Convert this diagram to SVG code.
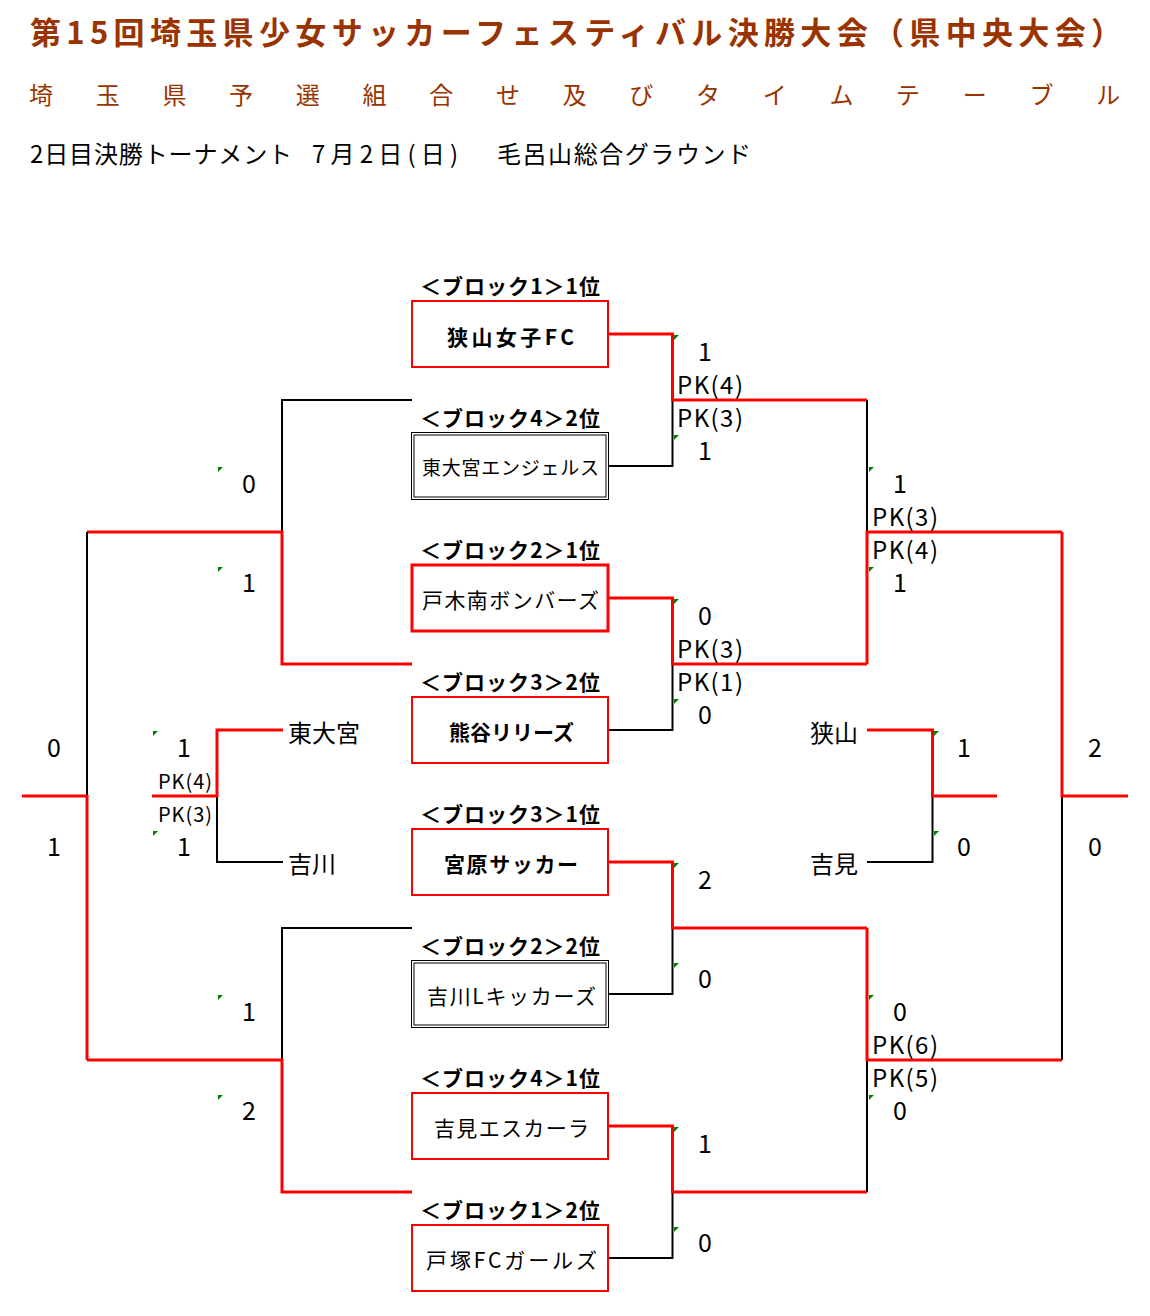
<svg xmlns="http://www.w3.org/2000/svg" width="1150" height="1316" viewBox="0 0 1150 1316">
<style>
text{font-family:"Noto Sans CJK JP","Liberation Sans",sans-serif;fill:#000}
.title{font-size:31px;font-weight:700;fill:#993300}
.sub{font-size:24px;fill:#993300}
.head{font-size:24px}
.lab{font-size:21px;font-weight:700}
.nm{font-size:21px}
.b{font-weight:700}
.sc{font-size:25px;text-anchor:middle}
.pk{font-size:24px}
.pks{font-size:20px}
.tm{font-size:24px}
.w{fill:none;stroke:#ff0000;stroke-width:3}
.l{fill:none;stroke:#000;stroke-width:2}
.rb{fill:#fff;stroke:#ff0000;stroke-width:2}
.db{fill:#fff;stroke:#000;stroke-width:1}
.g{fill:#008000}
</style>
<rect width="1150" height="1316" fill="#fff"/>
<g id="header">
<text class="title" x="30" y="44" textLength="1092" lengthAdjust="spacing">第15回埼玉県少女サッカーフェスティバル決勝大会（県中央大会）</text>
<text class="sub" y="104" x="29 95.7 162.4 229.1 295.8 362.5 429.2 495.9 562.6 629.3 696 762.7 829.4 896.1 962.8 1029.5 1096.2">埼玉県予選組合せ及びタイムテーブル</text>
<text class="head" x="30" y="163" textLength="262" lengthAdjust="spacing">2日目決勝トーナメント</text>
<text class="head" x="312" y="163" textLength="146" lengthAdjust="spacing">7月2日(日)</text>
<text class="head" x="497" y="163" textLength="254" lengthAdjust="spacing">毛呂山総合グラウンド</text>
</g>
<g id="connectors">
<path class="l" d="M608,466 H672.5 V400"/>
<path class="w" d="M608,334 H672.5 V400 H867"/>
<path class="l" d="M608,730 H672.5 V664"/>
<path class="w" d="M608,598 H672.5 V664 H867"/>
<path class="l" d="M608,994 H672.5 V928"/>
<path class="w" d="M608,862 H672.5 V928 H867"/>
<path class="l" d="M608,1258 H672.5 V1192"/>
<path class="w" d="M608,1126 H672.5 V1192 H867"/>
<path class="l" d="M867,400 V532"/>
<path class="w" d="M867,664 V532 H1062"/>
<path class="l" d="M867,1192 V1060"/>
<path class="w" d="M867,928 V1060 H1062"/>
<path class="l" d="M1062,1060 V796"/>
<path class="w" d="M1062,532 V796 H1128"/>
<path class="l" d="M867,862 H932.5 V796"/>
<path class="w" d="M867,730 H932.5 V796 H997"/>
<path class="l" d="M412,400 H282 V532"/>
<path class="w" d="M412,664 H282 V532 H87"/>
<path class="l" d="M412,928 H282 V1060"/>
<path class="w" d="M412,1192 H282 V1060 H87"/>
<path class="l" d="M87,532 V796"/>
<path class="w" d="M87,1060 V796 H22"/>
<path class="l" d="M283,862 H217 V796"/>
<path class="w" d="M283,730 H217 V796 H152"/>
</g>
<g id="marks">
<polygon class="g" points="674,335 679,335 674,340"/>
<polygon class="g" points="674,435 679,435 674,440"/>
<polygon class="g" points="674,599 679,599 674,604"/>
<polygon class="g" points="674,699 679,699 674,704"/>
<polygon class="g" points="674,863 679,863 674,868"/>
<polygon class="g" points="674,963 679,963 674,968"/>
<polygon class="g" points="674,1127 679,1127 674,1132"/>
<polygon class="g" points="674,1227 679,1227 674,1232"/>
<polygon class="g" points="869,467 874,467 869,472"/>
<polygon class="g" points="869,567 874,567 869,572"/>
<polygon class="g" points="869,995 874,995 869,1000"/>
<polygon class="g" points="869,1095 874,1095 869,1100"/>
<polygon class="g" points="934,731 939,731 934,736"/>
<polygon class="g" points="934,831 939,831 934,836"/>
<polygon class="g" points="218,467 223,467 218,472"/>
<polygon class="g" points="218,567 223,567 218,572"/>
<polygon class="g" points="218,995 223,995 218,1000"/>
<polygon class="g" points="218,1095 223,1095 218,1100"/>
<polygon class="g" points="153,731 158,731 153,736"/>
<polygon class="g" points="153,831 158,831 153,836"/>
</g>
<g id="node1">
<text class="lab" x="420" y="294" textLength="180" lengthAdjust="spacing">＜ブロック1＞1位</text>
<rect class="rb" x="412" y="301" width="196" height="66"/>
<text class="nm b" x="447" y="345" textLength="127" lengthAdjust="spacing">狭山女子FC</text>
</g>
<g id="node2">
<text class="lab" x="420" y="426" textLength="180" lengthAdjust="spacing">＜ブロック4＞2位</text>
<rect class="db" x="411.5" y="432.5" width="197" height="67"/>
<rect class="db" x="414" y="435" width="192" height="62"/>
<text class="nm" style="font-size:19px" x="422" y="475" textLength="177" lengthAdjust="spacing">東大宮エンジェルス</text>
</g>
<g id="node3">
<text class="lab" x="420" y="558" textLength="180" lengthAdjust="spacing">＜ブロック2＞1位</text>
<rect class="rb" style="stroke-width:3" x="412" y="565" width="196" height="66"/>
<text class="nm" x="422" y="608" textLength="177" lengthAdjust="spacing">戸木南ボンバーズ</text>
</g>
<g id="node4">
<text class="lab" x="420" y="690" textLength="180" lengthAdjust="spacing">＜ブロック3＞2位</text>
<rect class="rb" x="412" y="697" width="196" height="66"/>
<text class="nm b" x="449" y="740" textLength="125" lengthAdjust="spacing">熊谷リリーズ</text>
</g>
<g id="node5">
<text class="lab" x="420" y="822" textLength="180" lengthAdjust="spacing">＜ブロック3＞1位</text>
<rect class="rb" x="412" y="829" width="196" height="66"/>
<text class="nm b" x="444" y="872" textLength="134" lengthAdjust="spacing">宮原サッカー</text>
</g>
<g id="node6">
<text class="lab" x="420" y="954" textLength="180" lengthAdjust="spacing">＜ブロック2＞2位</text>
<rect class="db" x="411.5" y="960.5" width="197" height="67"/>
<rect class="db" x="414" y="963" width="192" height="62"/>
<text class="nm" x="427" y="1004" textLength="169" lengthAdjust="spacing">吉川Lキッカーズ</text>
</g>
<g id="node7">
<text class="lab" x="420" y="1086" textLength="180" lengthAdjust="spacing">＜ブロック4＞1位</text>
<rect class="rb" x="412" y="1093" width="196" height="66"/>
<text class="nm" x="434" y="1136" textLength="155" lengthAdjust="spacing">吉見エスカーラ</text>
</g>
<g id="node8">
<text class="lab" x="420" y="1218" textLength="180" lengthAdjust="spacing">＜ブロック1＞2位</text>
<rect class="rb" x="412" y="1225" width="196" height="66"/>
<text class="nm" x="426" y="1268" textLength="171" lengthAdjust="spacing">戸塚FCガールズ</text>
</g>
<g id="team-higashiomiya"><text class="tm" x="288" y="742">東大宮</text></g>
<g id="team-yoshikawa"><text class="tm" x="288" y="873">吉川</text></g>
<g id="team-sayama"><text class="tm" x="810" y="742">狭山</text></g>
<g id="team-yoshimi"><text class="tm" x="810" y="873">吉見</text></g>
<g id="scores">
<text class="sc" x="705" y="361">1</text>
<text class="pk" x="677" y="394" textLength="66" lengthAdjust="spacing">PK(4)</text>
<text class="pk" x="677" y="427" textLength="66" lengthAdjust="spacing">PK(3)</text>
<text class="sc" x="705" y="460">1</text>
<text class="sc" x="705" y="625">0</text>
<text class="pk" x="677" y="658" textLength="66" lengthAdjust="spacing">PK(3)</text>
<text class="pk" x="677" y="691" textLength="66" lengthAdjust="spacing">PK(1)</text>
<text class="sc" x="705" y="724">0</text>
<text class="sc" x="705" y="889">2</text>
<text class="sc" x="705" y="988">0</text>
<text class="sc" x="705" y="1153">1</text>
<text class="sc" x="705" y="1252">0</text>
<text class="sc" x="900" y="493">1</text>
<text class="pk" x="872" y="526" textLength="66" lengthAdjust="spacing">PK(3)</text>
<text class="pk" x="872" y="559" textLength="66" lengthAdjust="spacing">PK(4)</text>
<text class="sc" x="900" y="592">1</text>
<text class="sc" x="900" y="1021">0</text>
<text class="pk" x="872" y="1054" textLength="66" lengthAdjust="spacing">PK(6)</text>
<text class="pk" x="872" y="1087" textLength="66" lengthAdjust="spacing">PK(5)</text>
<text class="sc" x="900" y="1120">0</text>
<text class="sc" x="964" y="757">1</text>
<text class="sc" x="964" y="856">0</text>
<text class="sc" x="1095" y="757">2</text>
<text class="sc" x="1095" y="856">0</text>
<text class="sc" x="249" y="493">0</text>
<text class="sc" x="249" y="592">1</text>
<text class="sc" x="249" y="1021">1</text>
<text class="sc" x="249" y="1120">2</text>
<text class="sc" x="54" y="757">0</text>
<text class="sc" x="54" y="856">1</text>
<text class="sc" x="184" y="757">1</text>
<text class="pks" x="158" y="789" textLength="54" lengthAdjust="spacing">PK(4)</text>
<text class="pks" x="158" y="822" textLength="54" lengthAdjust="spacing">PK(3)</text>
<text class="sc" x="184" y="856">1</text>
</g>
</svg>
